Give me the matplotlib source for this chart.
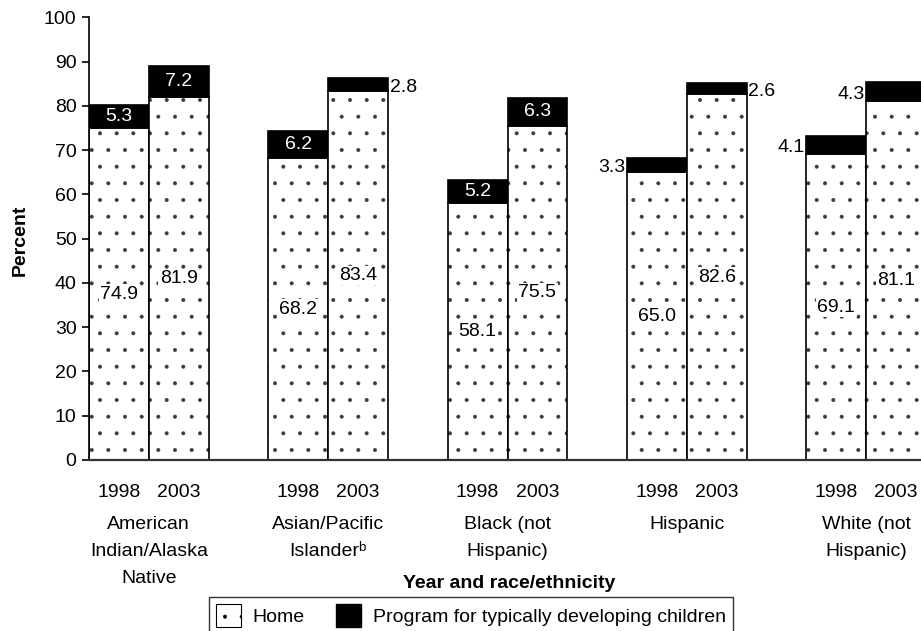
import matplotlib
matplotlib.use("Agg")
import matplotlib.pyplot as plt
from matplotlib.patches import Patch
from matplotlib.transforms import blended_transform_factory

plt.rcParams['font.family'] = ['Liberation Sans', 'DejaVu Sans']
plt.rcParams['hatch.linewidth'] = 0.4

# --- data ---
groups = ["American\nIndian/Alaska\nNative", "Asian/Pacific\nIslander\u1d47",
          "Black (not\nHispanic)", "Hispanic", "White (not\nHispanic)"]
years = ["1998", "2003"]
home = [[74.9, 81.9], [68.2, 83.4], [58.1, 75.5], [65.0, 82.6], [69.1, 81.1]]
program = [[5.3, 7.2], [6.2, 2.8], [5.2, 6.3], [3.3, 2.6], [4.1, 4.3]]
# where the program label goes: inside the black cap, or just left/right of it
program_label_pos = [["in", "in"], ["in", "right"], ["in", "in"],
                     ["left", "right"], ["left", "left"]]

FS = 14
DOT = "#3a3a3a"

fig = plt.figure(figsize=(9.21, 6.31), dpi=100)
W, H = 921, 631
# axes run a little past the right edge, the last bar gets clipped like the original
ax = fig.add_axes([89 / W, (H - 460) / H, 837 / W, 442.7 / H])

xs, xl = [], []
for gi in range(len(groups)):
    for yi in range(len(years)):
        x = 3 * gi + 0.5 + yi
        h = home[gi][yi]
        p = program[gi][yi]
        # dotted fill (grey dots), then a black outline on top
        ax.bar(x, h, width=1.0, color="white", edgecolor=DOT, hatch=".",
               linewidth=0)
        ax.bar(x, h, width=1.0, fill=False, edgecolor="black", linewidth=1.2)
        ax.bar(x, p, width=1.0, bottom=h, color="black", edgecolor="black",
               linewidth=1.2)
        ax.text(x, h / 2, f"{h:.1f}", ha="center", va="center", fontsize=FS,
                bbox=dict(facecolor="white", edgecolor="none", pad=1))
        pos = program_label_pos[gi][yi]
        mid = h + p / 2
        if pos == "in":
            ax.text(x, mid, f"{p:.1f}", ha="center", va="center", fontsize=FS,
                    color="white")
        elif pos == "right":
            ax.text(x + 0.53, mid - 0.6, f"{p:.1f}", ha="left", va="center",
                    fontsize=FS)
        else:
            ax.text(x - 0.53, mid - 0.6, f"{p:.1f}", ha="right", va="center",
                    fontsize=FS)
        xs.append(x)
        xl.append(years[yi])

ax.set_xlim(0, 14)
ax.set_ylim(0, 100)
ax.set_yticks(range(0, 101, 10))
ax.set_xticks(xs)
ax.set_xticklabels(xl)
ax.tick_params(axis="x", length=0, pad=17, labelsize=FS)
ax.tick_params(axis="y", length=5, width=1.2, direction="out", pad=4,
               labelsize=FS)
for s in ["top", "right"]:
    ax.spines[s].set_visible(False)
ax.spines["left"].set_linewidth(1.2)
ax.spines["bottom"].set_linewidth(1.6)
ax.spines["bottom"].set_color("#333333")

tr = blended_transform_factory(ax.transData, ax.transAxes)
for gi, g in enumerate(groups):
    ax.annotate(g, xy=(3 * gi + 1, 0), xycoords=tr, xytext=(0, -40),
                textcoords="offset points", ha="center", va="top",
                fontsize=FS, linespacing=1.8, annotation_clip=False)

fig.text(20 / W, 1 - 240 / H, "Percent", rotation=90, ha="center",
         va="center", fontsize=FS, fontweight="bold")
fig.text(509 / W, 1 - 584 / H, "Year and race/ethnicity", ha="center",
         va="center", fontsize=FS, fontweight="bold")

handles = [Patch(facecolor="white", edgecolor="black", hatch=".", linewidth=0.8),
           Patch(facecolor="black", edgecolor="black")]
leg = fig.legend(handles, ["Home", "Program for typically developing children"],
                 loc="upper left", bbox_to_anchor=(209 / W, 1 - 597 / H),
                 borderaxespad=0, ncol=2, fontsize=FS, frameon=True,
                 fancybox=False, edgecolor="black", handlelength=1.3,
                 handleheight=1.45, handletextpad=0.6, columnspacing=1.6,
                 borderpad=0.35)
leg.get_frame().set_linewidth(1.0)

fig.savefig("out.png", dpi=100)
